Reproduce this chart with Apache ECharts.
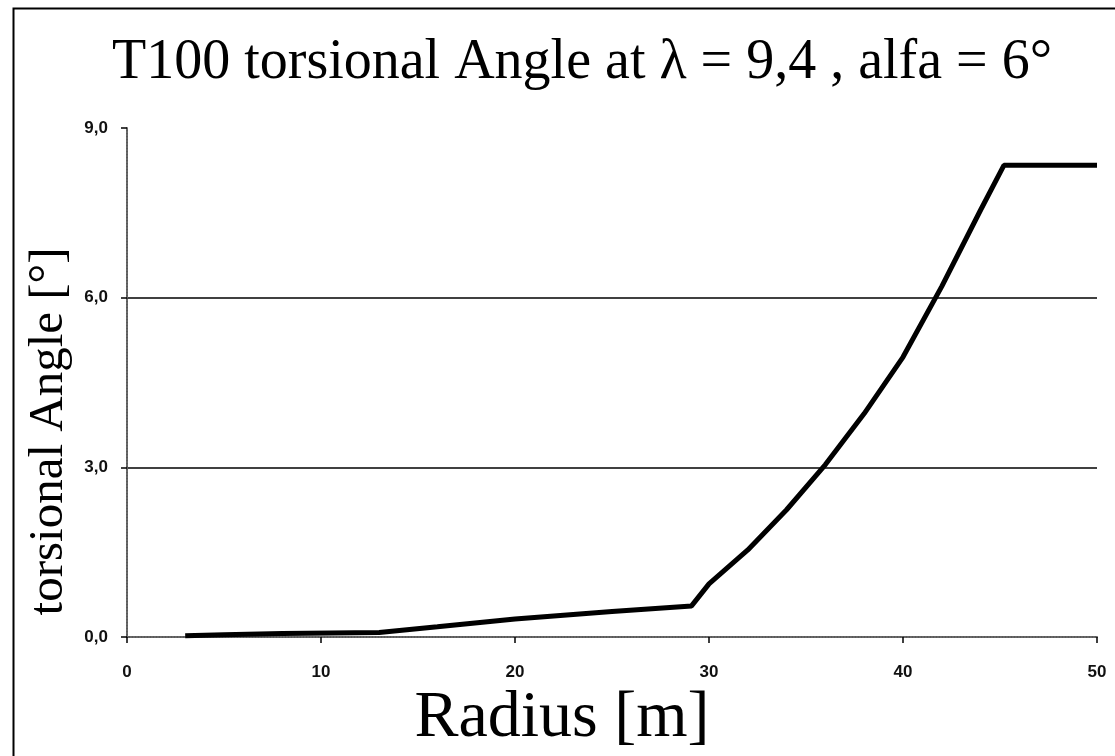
<!DOCTYPE html>
<html><head><meta charset="utf-8">
<script src="https://cdn.jsdelivr.net/npm/echarts@6/dist/echarts.min.js"></script>
<style>html,body{margin:0;padding:0;background:#fff}#c{width:1115px;height:756px}</style>
</head><body><div id="c"></div>
<script>
const titleText = 'T100 torsional Angle at \u03bb = 9,4 , alfa = 6\u00b0';
const xName = 'Radius [m]';
const yName = 'torsional Angle [\u00b0]';
const radius = [3, 5, 8, 13, 16, 20, 25, 29.1, 30, 32, 34, 36, 38, 40, 42, 44, 45.2, 50];
const angle = [0.02, 0.04, 0.06, 0.08, 0.18, 0.32, 0.45, 0.55, 0.94, 1.54, 2.25, 3.05, 3.95, 4.95, 6.2, 7.55, 8.34, 8.34];
const xMin = 0, xMax = 50, xStep = 10;
const yMin = 0, yMax = 9, yStep = 3;

const chart = echarts.init(document.getElementById('c'));
const tickFont = {fontFamily: 'Liberation Sans, Arial', fontWeight: 'bold', fontSize: 17, color: '#111'};
chart.setOption({
  animation: false,
  backgroundColor: '#fff',
  title: {text: titleText, left: 107, top: 30,
    textStyle: {fontFamily: 'Liberation Serif, Times New Roman', fontWeight: 'normal', fontSize: 56, color: '#000'}},
  grid: {left: 127, right: 18, top: 128, bottom: 119, outerBoundsMode: 'none', containLabel: false},
  xAxis: [{
    type: 'value', min: xMin, max: xMax, interval: xStep,
    name: xName, nameLocation: 'middle', nameGap: 40,
    nameTextStyle: {fontFamily: 'Liberation Serif, Times New Roman', fontSize: 66, color: '#000',
      verticalAlign: 'top', padding: [0, 100, 0, 0]},
    axisLine: {lineStyle: {color: '#000', width: 1.5}},
    axisTick: {show: true, length: 6, lineStyle: {color: '#000', width: 1.5}},
    axisLabel: Object.assign({margin: 27}, tickFont),
    splitLine: {show: false}
  }, {
    type: 'value', min: xMin, max: xMax, position: 'top',
    axisLine: {show: true, lineStyle: {color: '#777', type: 'dotted', width: 1.5}},
    axisTick: {show: false}, axisLabel: {show: false}, splitLine: {show: false}
  }],
  yAxis: [{
    type: 'value', min: yMin, max: yMax, interval: yStep,
    name: yName, nameLocation: 'middle', nameGap: 50,
    nameTextStyle: {fontFamily: 'Liberation Serif, Times New Roman', fontSize: 49, color: '#000',
      padding: [0, 98, 0, 0]},
    axisLine: {show: true, lineStyle: {color: '#000', width: 1.5}},
    axisTick: {show: true, length: 6, lineStyle: {color: '#000', width: 1.5}},
    axisLabel: Object.assign({margin: 19, formatter: v => v.toFixed(1).replace('.', ',')}, tickFont),
    splitLine: {show: true, lineStyle: {color: ['rgba(0,0,0,0)', '#000', '#000', 'rgba(0,0,0,0)'], width: 1.5}}
  }, {
    type: 'value', min: yMin, max: yMax, position: 'right',
    axisLine: {show: true, lineStyle: {color: '#777', type: 'dotted', width: 1.5}},
    axisTick: {show: false}, axisLabel: {show: false}, splitLine: {show: false}
  }],
  graphic: [{type: 'rect', left: 11, top: 6, shape: {width: 1200, height: 800},
    style: {fill: 'none', stroke: '#000', lineWidth: 2}, silent: true, z: -1}],
  series: [{
    type: 'line', xAxisIndex: 0, yAxisIndex: 0,
    data: radius.map((r, i) => [r, angle[i]]),
    showSymbol: false, lineStyle: {color: '#000', width: 5}, z: 5
  }]
});
</script></body></html>
